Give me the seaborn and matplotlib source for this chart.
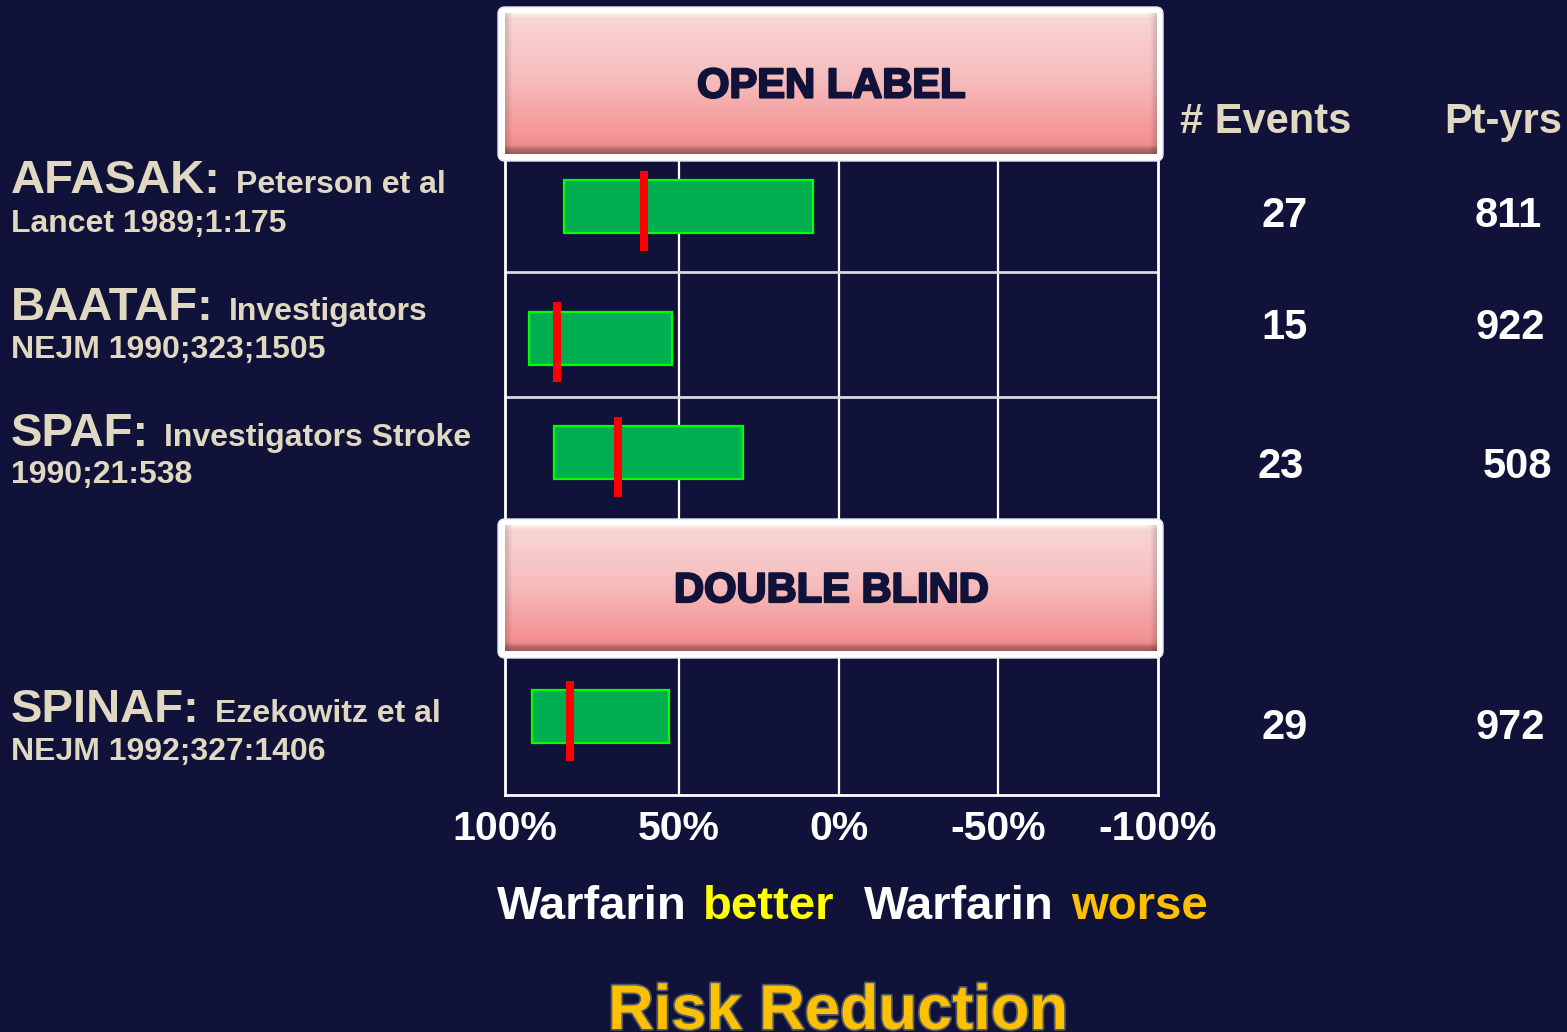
import matplotlib
matplotlib.use('Agg')
import matplotlib.pyplot as plt
import matplotlib.patheffects as pe
from matplotlib.patches import FancyBboxPatch
from matplotlib.transforms import ScaledTranslation
import numpy as np
import seaborn as sns

# data
trials = ['AFASAK', 'BAATAF', 'SPAF', 'SPINAF']
authors = ['Peterson et al', 'Investigators', 'Investigators Stroke', 'Ezekowitz et al']
refs = ['Lancet 1989;1:175', 'NEJM 1990;323;1505', '1990;21:538', 'NEJM 1992;327:1406']
events = [27, 15, 23, 29]
pt_years = [811, 922, 508, 972]
risk_red = [61, 88, 69, 84]      # point estimate (%)
ci_high = [86, 97, 89, 96]       # left end of bar (%)
ci_low = [8, 52, 30, 53]         # right end of bar (%)
xticks = [100, 50, 0, -50, -100]
xlabels = ['100%', '50%', '0%', '-50%', '-100%']

BG = '#10123a'
CREAM = '#e0d8c0'
W, H = 1567, 1032

sns.set_theme(style='dark', rc={'figure.facecolor': BG, 'axes.facecolor': BG,
                                'savefig.facecolor': BG, 'axes.grid': False})
plt.rcParams['font.family'] = ['Liberation Sans', 'DejaVu Sans']

fig = plt.figure(figsize=(W / 100, H / 100), dpi=100)


def fx(x):
    return x / W


def fy(y):
    return 1 - y / H


# ---- main forest area ----
ax = fig.add_axes([fx(505), fy(795), fx(1158) - fx(505), fy(160) - fy(795)])
row_y = [0.465, 1.78, 2.925, 5.565]
ax.set_xlim(104.4, -99.7)
ax.set_ylim(6.35, 0)

for v in xticks[1:-1]:
    ax.axvline(v, color='white', lw=1.6, zorder=1)
for s in [1.12, 2.37]:
    ax.axhline(s, color='#d8d8e0', lw=2, zorder=1)

ax.barh(row_y, [h - l for h, l in zip(ci_high, ci_low)], left=ci_low, height=0.53,
        color='#00b050', edgecolor='#00ff00', linewidth=1.6, zorder=2)
ax.vlines(risk_red, [y - 0.36 for y in row_y], [y + 0.44 for y in row_y],
          color='#ff0000', lw=5.8, capstyle='butt', zorder=3)

for side in ['left', 'right', 'bottom']:
    ax.spines[side].set_color('white')
    ax.spines[side].set_linewidth(2)
ax.spines['top'].set_visible(False)
ax.set_yticks([])
ax.set_xticks(xticks, xlabels)
ax.tick_params(axis='x', length=0, pad=11, labelsize=29.5, labelcolor='white')
for t in ax.get_xticklabels():
    t.set_fontweight('bold')
# the slide puts "100%" at the left edge of the frame
first = ax.xaxis.get_major_ticks()[0].label1
first.set_transform(first.get_transform() + ScaledTranslation(-0.14, 0, fig.dpi_scale_trans))

# ---- overlay in pixel coordinates ----
ov = fig.add_axes([0, 0, 1, 1], zorder=5)
ov.axis('off')


def header_box(x0, y0, x1, y1, label):
    frame = FancyBboxPatch((x0 - 7, y0 - 6), (x1 - x0) + 13, (y1 - y0) + 13,
                           boxstyle='round,pad=0,rounding_size=7',
                           fc='white', ec='#e8e8f0', lw=1, zorder=1)
    ov.add_patch(frame)
    stops = [0.0, 0.04, 0.45, 0.88, 0.94, 0.965, 1.0]
    cols = np.array([[255, 236, 236], [248, 212, 212], [246, 190, 190],
                     [244, 148, 148], [238, 140, 140], [185, 108, 108], [160, 92, 92]]) / 255
    n = 200
    f = np.linspace(0, 1, n)
    grad = np.stack([np.interp(f, stops, cols[:, c]) for c in range(3)], axis=-1)
    img = np.repeat(grad[:, None, :], 300, axis=1)
    edge = np.ones(300)
    edge[:3] = [0.86, 0.91, 0.96]
    edge[-3:] = [0.96, 0.91, 0.86]
    img = img * edge[None, :, None]
    ov.imshow(img, extent=(x0, x1, y1, y0), origin='upper', aspect='auto', zorder=2)
    ov.text((x0 + x1) / 2, (y0 + y1) / 2 + 3, label, ha='center', va='center',
            fontsize=30, fontweight='bold', color=BG, zorder=3,
            path_effects=[pe.withStroke(linewidth=1.6, foreground=BG)])


header_box(505, 13, 1157, 154, 'OPEN LABEL')
header_box(505, 525, 1157, 651, 'DOUBLE BLIND')

ov.set_xlim(0, W)
ov.set_ylim(H, 0)

renderer = fig.canvas.get_renderer()

# trial names + references
base_big = [193, 320, 446, 722]
base_ref = [232, 358, 483, 760]
for name, auth, ref, b1, b2 in zip(trials, authors, refs, base_big, base_ref):
    t = ov.text(11, b1, name + ':', fontsize=34, fontweight='bold', color=CREAM, va='baseline')
    bb = t.get_window_extent(renderer)
    ov.text(bb.x1 + 15, b1, auth, fontsize=23, fontweight='bold', color=CREAM, va='baseline')
    ov.text(11, b2, ref, fontsize=23, fontweight='bold', color=CREAM, va='baseline')

# columns on the right
ov.text(1180, 133, '# Events', fontsize=30, fontweight='bold', color=CREAM, va='baseline')
ov.text(1444, 133, 'Pt-yrs', fontsize=30, fontweight='bold', color=CREAM, va='baseline')
ev_x = [1285, 1285, 1281, 1285]
py_x = [1508, 1510, 1517, 1510]
num_base = [227, 339, 478, 739]
for e, p, xe, xp, b in zip(events, pt_years, ev_x, py_x, num_base):
    ov.text(xe, b, str(e), fontsize=30, fontweight='bold', color='white', ha='center', va='baseline')
    ov.text(xp, b, str(p), fontsize=30, fontweight='bold', color='white', ha='center', va='baseline')

# "Warfarin better  Warfarin worse"
pieces = [('Warfarin', 'white', 0), ('better', '#ffff00', 16),
          ('Warfarin', 'white', 30), ('worse', '#ffc000', 17)]
x = 497
for txt, col, gap in pieces:
    x += gap
    t = ov.text(x, 919, txt, fontsize=34, fontweight='bold', color=col, va='baseline')
    x = t.get_window_extent(renderer).x1

ov.text(838, 1029, 'Risk Reduction', fontsize=45.5, fontweight='bold', color='#ffc000',
        ha='center', va='baseline',
        path_effects=[pe.withStroke(linewidth=2.5, foreground='#4a5a6a')])

fig.savefig('out.png', dpi=100)
